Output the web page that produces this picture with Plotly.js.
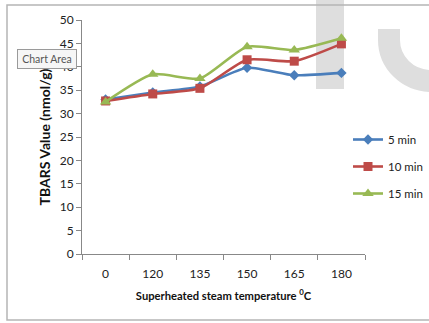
<!DOCTYPE html>
<html>
<head>
<meta charset="utf-8">
<script src="https://cdn.plot.ly/plotly-3.0.1.min.js"></script>
<style>html,body{margin:0;padding:0;background:#fff;overflow:hidden;}#chart{width:429px;height:323px;}</style>
</head>
<body>
<div id="chart"></div>
<script>
const categories = ["0", "120", "135", "150", "165", "180"];
const series5 = [33.0, 34.5, 35.8, 39.8, 38.2, 38.7];
const series10 = [32.7, 34.2, 35.4, 41.5, 41.2, 44.9];
const series15 = [32.5, 38.4, 37.5, 44.3, 43.6, 46.1];
const seriesNames = ["5 min", "10 min", "15 min"];
const yTicks = [0, 5, 10, 15, 20, 25, 30, 35, 40, 45, 50];

// plot area in pixels
const X0 = 82, X1 = 365, Y0 = 20, Y1 = 254;
const px = x => (x - X0) / (X1 - X0);
const py = y => (Y1 - y) / (Y1 - Y0);

const FONT = "Lato, Roboto, sans-serif";

function trace(vals, name, color, symbol, size, grp) {
  return {
    x: categories, y: vals, name: name, type: "scatter", mode: "lines+markers",
    line: {color: color, width: 2.6, shape: "spline", smoothing: 0.6},
    marker: {color: color, symbol: symbol, size: size},
    legendgroup: grp
  };
}

const data = [
  trace(series5, seriesNames[0], "#4a7ebb", "diamond", 8, "a"),
  trace(series10, seriesNames[1], "#be4b48", "square", 9, "b"),
  trace(series15, seriesNames[2], "#98b954", "triangle-up", 10, "c")
];

const wm = "#dedede";
const layout = {
  width: 429, height: 323,
  margin: {l: X0, r: 429 - X1, t: Y0, b: 323 - Y1, autoexpand: false},
  paper_bgcolor: "#fff", plot_bgcolor: "rgba(0,0,0,0)",
  font: {family: FONT, size: 11, color: "#222"},
  showlegend: true,
  legend: {
    x: px(348), y: py(125), xanchor: "left", yanchor: "top",
    traceorder: "grouped", tracegroupgap: 8, itemwidth: 30,
    font: {family: FONT, size: 11.5, color: "#222"}, bgcolor: "rgba(0,0,0,0)"
  },
  xaxis: {
    type: "category", range: [-0.5, 5.5], tickson: "boundaries",
    showline: true, linecolor: "#888", linewidth: 1,
    ticks: "outside", ticklen: 5, tickcolor: "#888",
    showgrid: false, zeroline: false, ticklabelstandoff: 9,
    tickfont: {family: FONT, size: 12, color: "#222"},
    title: {text: "<b>Superheated steam temperature <sup>0</sup>C</b>", standoff: 11,
            font: {family: FONT, size: 11.2, color: "#111"}}
  },
  yaxis: {
    range: [0, 50], tickvals: yTicks, ticktext: yTicks.map(String),
    showline: true, linecolor: "#888", linewidth: 1,
    ticks: "outside", ticklen: 5, tickcolor: "#888",
    showgrid: false, zeroline: false,
    tickfont: {family: FONT, size: 12, color: "#222"},
    title: {text: "<b>TBARS Value (nmol/g)</b>", standoff: 5,
            font: {family: FONT, size: 14, color: "#111"}}
  },
  shapes: [
    {type: "rect", xref: "paper", yref: "paper", layer: "below",
     x0: px(316), x1: px(344), y0: py(89), y1: py(0),
     fillcolor: wm, line: {width: 0}},
    {type: "path", xref: "paper", yref: "paper", layer: "below",
     path: `M ${px(389)},${py(29)} L ${px(389)},${py(40)} C ${px(389)},${py(62)} ${px(407)},${py(81)} ${px(432)},${py(81)}`,
     line: {color: wm, width: 22}},
    {type: "rect", xref: "paper", yref: "paper", layer: "above",
     x0: px(7), x1: px(440), y0: py(320), y1: py(5),
     line: {color: "#b5b5b5", width: 1.5}, fillcolor: "rgba(0,0,0,0)"}
  ],
  annotations: [
    {xref: "paper", yref: "paper", x: px(46.5), y: py(59), xanchor: "center", yanchor: "middle",
     showarrow: false, width: 56, height: 16,
     text: "Chart Area", font: {family: FONT, size: 10.5, color: "#555"},
     bgcolor: "#f6f6f6", bordercolor: "#9a9a9a", borderwidth: 1, borderpad: 1}
  ]
};

Plotly.newPlot("chart", data, layout, {displayModeBar: false, staticPlot: true});
</script>
</body>
</html>
